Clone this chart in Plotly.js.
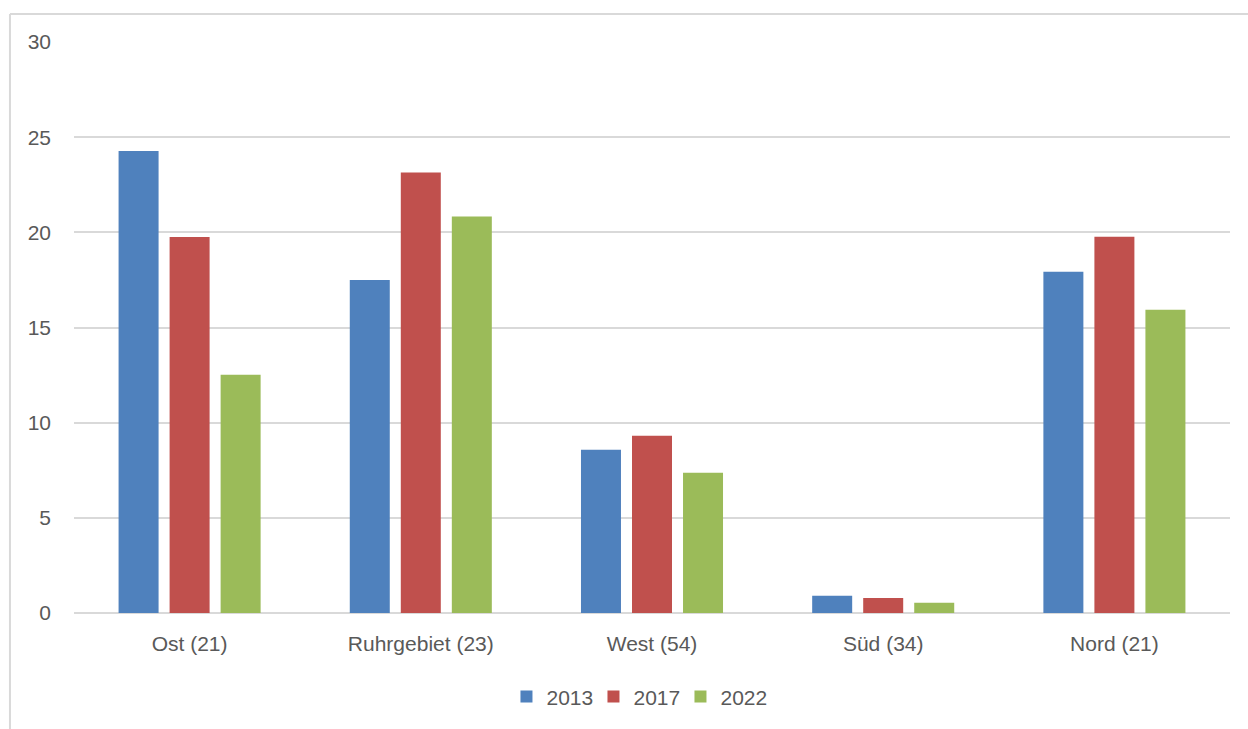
<!DOCTYPE html>
<html>
<head>
<meta charset="utf-8">
<script src="https://cdn.plot.ly/plotly-3.0.1.min.js"></script>
<style>html,body{margin:0;padding:0;background:#fff;}#chart{width:1248px;height:729px;}</style>
</head>
<body>
<div id="chart"></div>
<script>
const categories = ["Ost (21)", "Ruhrgebiet (23)", "West (54)", "Süd (34)", "Nord (21)"];
const years = ["2013", "2017", "2022"];
const values2013 = [24.27, 17.49, 8.58, 0.91, 17.93];
const values2017 = [19.75, 23.14, 9.31, 0.79, 19.77];
const values2022 = [12.52, 20.83, 7.37, 0.54, 15.93];
const colors = ["#4f81bd", "#c0504d", "#9bbb59"];
const yTicks = [0, 5, 10, 15, 20, 25, 30];

const series = [values2013, values2017, values2022];
const traces = series.map((vals, i) => ({
  type: "bar",
  name: years[i],
  x: categories,
  y: vals,
  marker: {color: colors[i], line: {width: 0}},
  hoverinfo: "x+y+name"
}));

const font = {family: "Liberation Sans, Arial, sans-serif", size: 21, color: "#595959"};

const layout = {
  width: 1248, height: 729,
  margin: {l: 74, r: 18, t: 42, b: 116, pad: 0},
  paper_bgcolor: "#ffffff", plot_bgcolor: "#ffffff",
  font: font,
  barmode: "group",
  bargap: 0.338,
  bargroupgap: 0.216,
  showlegend: true,
  legend: {orientation: "h", x: 0.487, xanchor: "center", y: -0.147, yanchor: "middle",
           font: font, itemwidth: 30, entrywidth: 42, entrywidthmode: "pixels", traceorder: "normal"},
  xaxis: {type: "category", showgrid: false, zeroline: false, showline: false,
          ticks: "", tickfont: font, automargin: false, ticklabelstandoff: 16},
  yaxis: {range: [0, 30], tickvals: yTicks, ticktext: yTicks.map(String),
          showgrid: true, gridcolor: "#d9d9d9", gridwidth: 2,
          zeroline: true, zerolinecolor: "#d9d9d9", zerolinewidth: 2,
          showline: false, ticks: "", tickfont: font, automargin: false,
          ticklabelstandoff: 22},
  shapes: [
    {type: "line", xref: "paper", yref: "paper", x0: -0.0554, x1: 1.05, y0: 1.049, y1: 1.049,
     line: {color: "#d9d9d9", width: 2}},
    {type: "line", xref: "paper", yref: "paper", x0: -0.0554, x1: -0.0554, y0: 1.049, y1: -0.3,
     line: {color: "#d9d9d9", width: 2}}
  ]
};

Plotly.newPlot("chart", traces, layout, {displayModeBar: false, staticPlot: true});
</script>
</body>
</html>
